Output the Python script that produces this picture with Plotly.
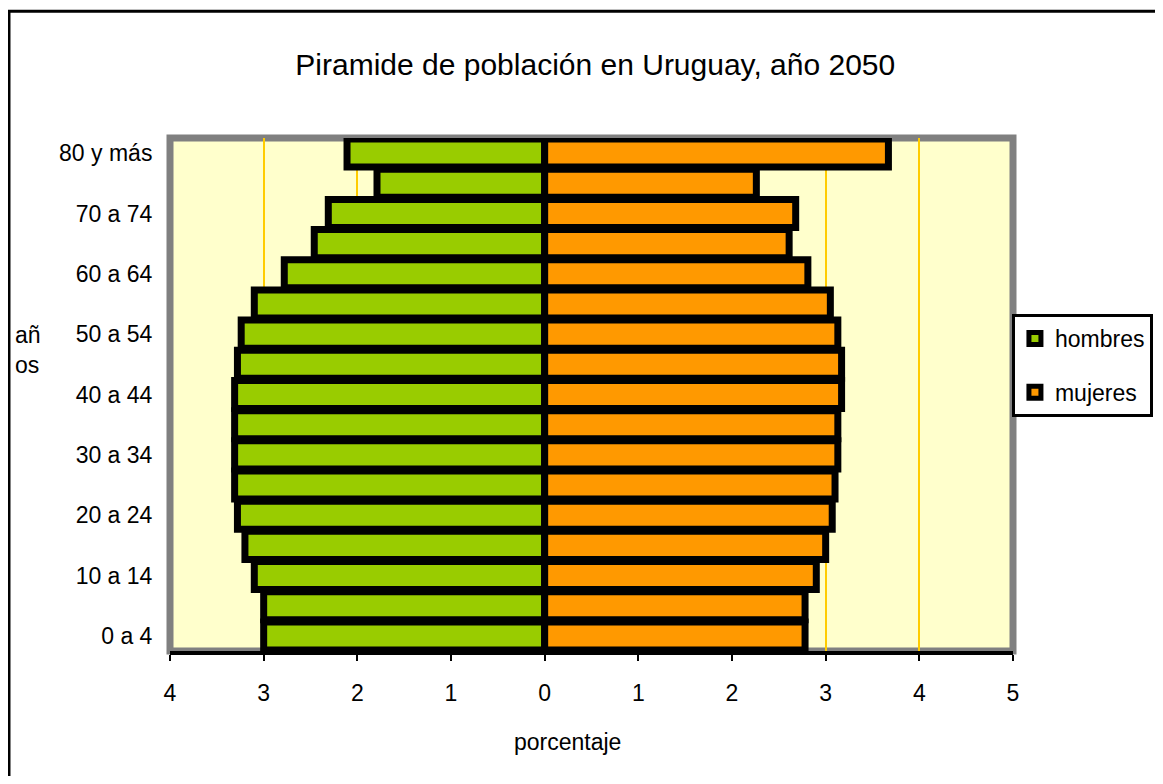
import plotly.graph_objects as go

edades = ["0 a 4", "5 a 9", "10 a 14", "15 a 19", "20 a 24", "25 a 29", "30 a 34",
          "35 a 39", "40 a 44", "45 a 49", "50 a 54", "55 a 59", "60 a 64",
          "65 a 69", "70 a 74", "75 a 79", "80 y más"]
hombres = [3.00, 3.00, 3.10, 3.20, 3.28, 3.31, 3.31, 3.31, 3.31, 3.28, 3.24,
           3.10, 2.78, 2.46, 2.31, 1.79, 2.11]
mujeres = [2.78, 2.78, 2.90, 3.00, 3.07, 3.10, 3.13, 3.13, 3.17, 3.17, 3.13,
           3.05, 2.81, 2.61, 2.68, 2.26, 3.67]
x_ticks = [-4, -3, -2, -1, 0, 1, 2, 3, 4, 5]
x_tick_text = ["4", "3", "2", "1", "0", "1", "2", "3", "4", "5"]

FONT = "Liberation Sans, Arial, sans-serif"

fig = go.Figure()
fig.add_trace(go.Bar(
    y=edades, x=[-v for v in hombres], orientation="h", name="hombres",
    legendgroup="h",
    marker=dict(color="#99CC00", line=dict(color="black", width=7)),
))
fig.add_trace(go.Bar(
    y=edades, x=mujeres, orientation="h", name="mujeres",
    legendgroup="m",
    marker=dict(color="#FF9900", line=dict(color="black", width=7)),
))

# page has an 8px body margin, so the figure is kept a bit smaller than the window
fig.update_layout(
    width=1147, height=768,
    margin=dict(l=162, r=142, t=130, b=125, autoexpand=False),
    barmode="relative", bargap=0.07,
    paper_bgcolor="white", plot_bgcolor="#FFFFCC",
    font=dict(family=FONT, size=23, color="black"),
    title=dict(text="Piramide de población en Uruguay, año 2050",
               x=0.512, xanchor="center", y=0.926, yanchor="middle",
               font=dict(family=FONT, size=30, color="black")),
    legend=dict(x=1.166, xanchor="right", y=0.657, yanchor="top",
                bordercolor="black", borderwidth=3, bgcolor="white",
                tracegroupgap=21, traceorder="grouped",
                font=dict(family=FONT, size=23)),
    showlegend=True,
)
fig.update_xaxes(
    range=[-4, 5], tickvals=x_ticks, ticktext=x_tick_text,
    showgrid=True, gridcolor="#FFCC00", gridwidth=2, zeroline=False,
    showline=True, linecolor="black", linewidth=4,
    ticks="outside", ticklen=6, tickwidth=2, tickcolor="black",
    ticklabelstandoff=12,
)
fig.update_yaxes(
    categoryorder="array", categoryarray=edades,
    tickvals=edades[::2], showgrid=False, zeroline=False,
    ticks="outside", ticklen=12, tickcolor="rgba(0,0,0,0)",
)

# gray plot-area frame
fig.add_shape(type="rect", xref="paper", yref="paper", x0=0, x1=1, y0=0, y1=1,
              line=dict(color="#808080", width=7), layer="between")
# outer chart border (cropped on right and bottom)
fig.add_shape(type="rect", xref="paper", yref="paper", x0=-0.191, x1=2, y0=-2, y1=1.247,
              line=dict(color="black", width=3), layer="above")

fig.add_annotation(text="añ<br>os", xref="paper", yref="paper", x=-0.186, y=0.586,
                   xanchor="left", yanchor="middle", align="left", showarrow=False,
                   font=dict(family=FONT, size=23))
fig.add_annotation(text="porcentaje", xref="paper", yref="paper", x=0.471, y=-0.178,
                   xanchor="center", yanchor="middle", showarrow=False,
                   font=dict(family=FONT, size=23))

fig.write_html("out.html")
